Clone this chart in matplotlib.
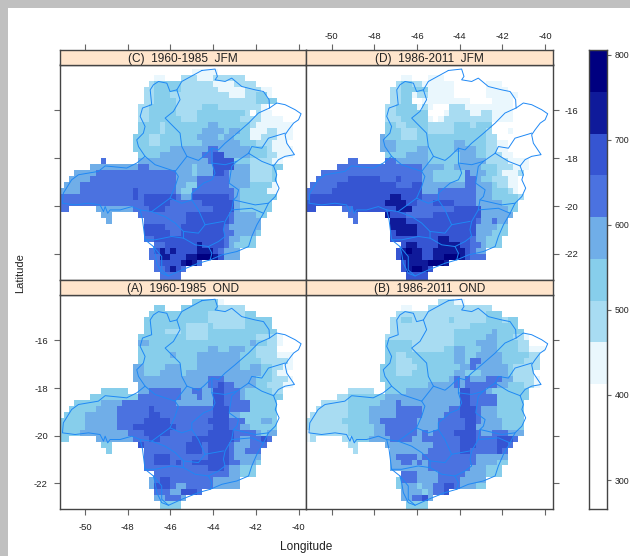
import numpy as np
import matplotlib
matplotlib.use('Agg')
from matplotlib import pyplot as plt
from matplotlib.colors import ListedColormap, BoundaryNorm
from matplotlib.patches import Rectangle

plt.rcParams['font.family'] = ['Liberation Sans', 'DejaVu Sans']

W, H = 630, 556

# class breaks of the colour key (mm) and the colour of each class
BREAKS = [266, 413, 462, 511, 560, 609, 658, 707, 756, 805]
COLORS = ['#FFFFFF', '#EAF7FD', '#A8DCF2', '#87CEEB', '#70AEE8',
          '#4B72E0', '#3655D2', '#0F1A9A', '#000080']
# rainfall read for each digit in the rows below
CLASS_MM = [340, 437, 486, 535, 584, 633, 682, 731, 780]

XTICKS = [-50, -48, -46, -44, -42, -40]
YTICKS = [-16, -18, -20, -22]
KEY_TICKS = [300, 400, 500, 600, 700, 800]

# rows run north to south in 0.25 degree cells, first column given by *_START
C_START = [25,18,17,16,16,16,15,15,15,15,15,14,14,14,15,8,6,3,2,1,0,0,0,0,8,9,16,16,16,18,17,17,18,18,19,19]
C_ROWS = [
    "11111",
    "11...222111222222",
    "2 3333 3 22222 2 1111 2 222",
    "22 33333 2222222 11111 222 11",
    "22 33322 2222222 22 111 22 331",
    "22 33332 22222222 2222 22 3333",
    "22 33333 2222 2 333 222222 22 1 00000",
    "22 33333 2222 333333333 2 0 2 11 00000",
    "22 3333 33 222 33333333 22 22 11 11000",
    "3 3 33 2 333 3333 3 44 33333 3 2 11 1111 1",
    "33 33 2 333 3333 4444 3 44 33 1 11 22 111",
    "3 33 2233 3333 3 4444 3 44 33 3 11 222 111",
    "333 2233 33 3333 4444 444 333 2 22 111",
    "333 3333 44 4444 4 55 44 4444 333 2 1111",
    "33 33 444 44444 55 66 4 4444 333 22 111",
    "5...... 4444444444444 5 6666 333 2222 11",
    "444444444 55 44444 444 3 444 6666 444 2222 33",
    "444 4 555555555555555 444 3 44 4 66 5 4444 2222 3",
    "4444 5555555555555555 4444 55 5555 4444 2222 3",
    "444 555555555555555555 44 33 5555 5 5 4 444 33 3 3 1",
    "44 44 5555555555 6 555555 5 4 33 5555555 5 4 3333 3 11",
    "555 55555555555 6 5 66666 6 5 44 6666666 5 4 33333 33",
    "55555555555555 55 66666 5 55 555 666666 4 3333 33",
    "55..... 4444444 555 666 555 555 5556666 4333333",
    "44..... 555 555 555 66 666666 5 444433",
    "4...... 555555 55 66666666 5 44444",
    "6666 555 66666666 5 444444",
    "66666 55 66666666 55 4444 3",
    "55 6666666 666666 5 44 333",
    "55 66666 6 7 6666 5 4 3333",
    "5 6 7 6 7 6666 77 7 6 5444",
    "55 77 66 6 77 88 8 7 6 444",
    "566667875",
    "556765",
    "5555",
    "5555",
]

D_START = [25,18,17,16,16,16,15,15,15,15,15,14,14,14,15,8,6,3,2,1,0,0,0,0,8,9,16,16,16,18,17,17,18,18,19,19]
D_ROWS = [
    "00000",
    "11...111000000",
    "2 3322 1 111 11 000000 111",
    "22 33333 111 11 000000 1111 00",
    "22 33 1 22 11111 000000 11 1111",
    "22 33 00 1 11111 111 0000 1 11100",
    "22 3333 1 2 1 000 222 11 11111 11 00000",
    "22 3333 33 000 1 2222 11 22 1111 000000",
    "22 2333 33 1 0 1 22222222 2 1111 000000",
    "33 2233 33 2222 2 333 2 33 3 0000 00000",
    "33 3222 33 2222 2 333 333 2 000 1 00000",
    "4 33 3222 33 3333 3333 333 2 2 00 000000",
    "444 3333 33 3333 3 44 33 33 22 11 00000",
    "444 3333 44 3333 3 44 44 33 22 11 000000",
    "33 33 4 444 3333 33 444 33 22 2 11 00000",
    "55..... 55 444444 3333 33 44 444 22 22 111 1",
    "555555555 5555555 444 4 33 44444 333 222 111",
    "555 55555555 55555555 44 33333 3 5 444 33 2 111 2",
    "5555 55666666 55565555 4433333 35 5 433 222 110",
    "55555 6666666666655566 444 44444 55 444 3 22 110",
    "55555 66666666666666666 444 5555 555 444 333 210",
    "5666666666666666 7 7 6 666 555 5555555 444 333 332",
    "66666666666666 6 777 7 66 555 6666555 5 44 444 333",
    "66..... 5566666 666 77 7 555 555 5566666 444 4433",
    "55..... 7 666 55 555 66666666 6 444444",
    "5...... 777666 66 66666666 5 44 5 44",
    "7 7777 666 6666666 6 444 433",
    "6 7777 666 66666666 4 4433 3",
    "66 66666 66 77 6666 5 44 333",
    "6 77 666 6 7777 66 5 5 4333",
    "6 7877 667 77777 6 544",
    "6 7777 66 77 888 7 6 555",
    "677778887",
    "678876",
    "6666",
    "6666",
]

A_START = [25,18,17,16,16,16,15,15,15,15,15,14,14,14,15,8,6,3,2,1,0,0,0,0,8,9,16,16,16,18,17,17,18,18,19,19]
A_ROWS = [
    "333331",
    "33...3333333 22222",
    "333333 33333 2222222 33",
    "33 33333 3333 3 2222222 33333",
    "33 33333 3 2222 322222 233333",
    "33 33 222 3 2222 333333 3333 333",
    "33 33333 3 3 2222 33333 3333 222 2 100",
    "44 33333 3333 333333 33 33 4 33 22 1000",
    "33 33333 3333 33 44 33 444 33 222 20000",
    "33 3333 4 33 33 4444 4444 333 222 2111",
    "33 3333 33 3 33 44444444 3333 222 221",
    "44 3 3334 44 3 33 44444444 33 44 33 22 11",
    "44 3 3344 44 3 44 44444444 444 4 33 2 11",
    "444 4444 44 4444 4 55 5 44 4444 333 222 1",
    "44 44 444 44 444 4 55 6 55 4444 33 222 11",
    "33333.. 44 555555 44 55 44 66 555 433 333 22",
    "333333333 55 555555 444 5 44 66 555 433 333 33",
    "3333 3444 455 55555555 4444 444 66 5 5555 3333 3",
    "33333 4444 5 55555 6 5555 5555555 666 5555 3333 3",
    "3333 444444 555555 6655 5 5555555 666 44 333 333 3",
    "33333 444444 555 5566666 5 5555 55 6666 55 5 333 44 3",
    "33333 444444 555 66 66666 6 55555 55666 55 44333 33",
    "3333 4444444 445 556 6666 5 55555 566666 555 54 344",
    "33..... 4444444 5 55 6655 555 566 666666 5445 565",
    "33..... 6 555 55555 666 5 6666 5 444 555",
    "3...... 5555555 5666 56666 5 44 555",
    "55 666 5555 55 566 66 5 44444",
    "55 6665 655 66 6 666 6 55 444 3",
    "55 5555 555 555 666 5 44 333",
    "5 5555 5555 5555 5 4 4 333",
    "4 566 555 5555 5 44 444",
    "4 666 544 555 55 44 444",
    "555446665",
    "445554",
    "3333",
    "3333",
]

B_START = [25,18,17,16,16,16,15,15,15,15,15,14,14,14,15,8,6,3,2,1,0,0,0,0,8,9,16,16,16,18,17,17,18,18,19,19]
B_ROWS = [
    "22211",
    "11...222222222222",
    "222222 22222222222 333",
    "22 33222 2222 3 222222 33 3 233",
    "22 22222 222222 22 33 33 33 333",
    "22 22222 22222 3333 333 4 3 3333",
    "22 22222 2 22222 333 333 44 33 3 22100",
    "33 33322 22 2222 33 33 444 4 3 333 22000",
    "33 33322 22 2233 44 3 33 44 4 3 333 22111",
    "33 2233 33 333 33 44 33 444 44 333 3322",
    "33 2223 33 333 33 44 3 55 44 44 333 3222",
    "3 33 2222 33 3333 3344 5 44444 4 3222 22",
    "333 2223 33 3333 3 44 3 33 44 444 3 222 2",
    "333 3333 33 3333 4 5 4 5 444 555 44 222 21",
    "33 333333 4444 4 5 4 55 5555 44 333 22 1",
    "22222.. 3333 4444444444 66 555 433 333 33",
    "22 3333333 44 44444 4444444 66 5 55 55 3333 33",
    "22222 333333 444 5 4444 4444444 66 5 5555 3333 3",
    "22222 2333 344444 5 555 5 44444 55 666 5 444 3333 3",
    "22222 22333 3444 44 5555 5 4444 555 666 5 444 3333 3",
    "222222 23333 344 55 55555 4 444 5555566 5 44 4 4 333 3",
    "222222 22333 3344 555555 4 444 5555566 4 444 4 3333",
    "122222 22333 3344 555555 45 45 5556666 5 44 555 444",
    "12..... 2233344 445 5554 45 555555 666 5 55 566 65",
    "22..... 4 444 444 44 55555 6 66 5 55 5665",
    "2...... 4444 44 4 55555 566 5 555 565",
    "4 5555 45 55555 555 5 444444",
    "44 55 45 455555 555 54 44433",
    "44 444445 555 5555 4 44 333",
    "5 55 4444 5555 54 444 333",
    "3 555 4444 5555 44 444",
    "3 444 34 455 66 54 4433",
    "444434556",
    "445564",
    "3333",
    "3333",
]

# state border and region borders, lon then lat
BORDER_LON = [-44.53,-43.91,-43.80,-43.91,-43.44,-43.13,-42.66,-42.03,-41.64,-41.38,-41.36,-41.02,-40.63,-40.16,-39.88,-40.00,-40.23,-40.47,-40.63,-40.55,-40.19,-40.63,-40.94,-41.17,-41.02,-41.09,-40.91,-41.09,-41.41,-41.64,-41.95,-42.19,-42.34,-42.89,-43.59,-44.14,-44.69,-45.47,-46.09,-46.41,-46.64,-46.72,-46.80,-47.19,-47.31,-47.42,-47.81,-48.36,-48.83,-48.94,-49.06,-49.14,-49.30,-49.84,-50.47,-51.06,-51.02,-50.63,-50.31,-49.38,-49.06,-48.05,-47.58,-47.19,-47.50,-47.58,-47.27,-47.19,-47.42,-47.31,-46.88,-46.95,-46.80,-46.56,-46.17,-46.02,-45.70,-45.47,-44.53]
BORDER_LAT = [-14.33,-14.27,-14.58,-14.72,-14.79,-14.65,-15.00,-15.14,-15.21,-15.55,-15.90,-15.69,-15.76,-15.97,-16.14,-16.39,-16.53,-16.81,-17.02,-17.37,-17.85,-17.92,-18.06,-18.32,-18.69,-18.90,-19.25,-19.60,-19.88,-20.30,-20.78,-21.27,-21.69,-21.90,-22.04,-22.25,-22.39,-22.67,-22.92,-22.81,-22.39,-21.97,-21.69,-21.41,-20.57,-20.16,-20.02,-20.16,-20.16,-20.30,-20.02,-20.23,-19.95,-19.88,-19.95,-19.88,-19.46,-18.90,-18.69,-18.55,-18.32,-18.41,-18.20,-17.92,-17.51,-17.23,-16.95,-16.67,-16.25,-15.90,-15.76,-15.14,-14.93,-14.79,-14.86,-15.21,-15.14,-14.79,-14.33]

REGION_LINES = [
    [(-45.70,-15.14),(-45.55,-15.55),(-45.86,-16.04),(-46.25,-16.32),(-46.02,-16.53),(-45.55,-16.95),(-45.47,-17.51),(-45.23,-17.92),(-44.69,-18.09),(-44.45,-17.92),(-44.06,-17.58),(-43.75,-17.65),(-43.44,-17.37),(-42.97,-17.02),(-42.34,-16.53),(-41.88,-16.11),(-41.36,-15.90)],
    [(-47.19,-17.92),(-46.72,-18.27),(-45.78,-18.55),(-45.23,-17.92)],
    [(-44.06,-17.58),(-44.06,-18.20),(-43.91,-18.62),(-44.06,-18.90),(-44.45,-19.04),(-45.00,-19.46),(-45.00,-19.74),(-45.47,-19.88),(-46.02,-19.67),(-46.88,-20.23),(-47.42,-20.16)],
    [(-45.78,-18.55),(-45.63,-18.76),(-45.78,-19.18),(-46.02,-19.67)],
    [(-42.34,-17.79),(-42.89,-18.13),(-43.13,-18.34),(-43.25,-19.04),(-42.81,-19.32),(-42.89,-19.60),(-43.05,-19.74),(-42.03,-19.95),(-41.41,-19.88)],
    [(-44.06,-18.20),(-43.44,-18.27),(-42.89,-18.13)],
    [(-42.34,-17.79),(-42.19,-17.51),(-41.72,-17.58),(-41.41,-17.16),(-40.63,-16.95)],
    [(-42.34,-17.79),(-41.72,-18.13),(-41.17,-18.32)],
    [(-43.05,-19.74),(-43.13,-20.16),(-43.44,-20.64),(-43.52,-20.99),(-43.44,-21.27),(-43.75,-21.48),(-44.22,-21.69)],
    [(-43.13,-20.16),(-42.19,-20.09),(-41.64,-20.30)],
    [(-46.88,-20.23),(-46.25,-20.44),(-45.78,-20.71),(-45.39,-21.06),(-44.69,-21.13),(-44.38,-20.78),(-43.52,-20.64)],
    [(-45.00,-19.74),(-44.69,-20.16),(-44.38,-20.78)],
    [(-45.39,-21.06),(-45.39,-21.34),(-44.84,-21.62),(-44.22,-21.69),(-44.06,-21.97),(-44.14,-22.25)],
    [(-47.19,-21.41),(-46.72,-21.41),(-45.94,-21.27),(-45.39,-21.34)],
    [(-46.80,-21.69),(-46.41,-22.11),(-46.41,-22.67),(-46.09,-22.92)],
]

LON_EDGES = np.arange(48) * 0.25 - 51.25
LAT_EDGES = -14.25 - np.arange(37) * 0.25
XLIM = (-51.19, -39.64)
YLIM = (-23.09, -14.08)
AXCOL = '#444444'
TXT = '#222222'
LINE = '#1E88F5'


def decode(starts, rows):
    grid = np.full((36, 47), np.nan)
    for r, (s, row) in enumerate(zip(starts, rows)):
        row = row.replace(' ', '')
        for k, ch in enumerate(row):
            if ch != '.' and s + k < 47:
                grid[r, s + k] = CLASS_MM[int(ch)]
    return grid


def px_axes(fig, x0, y0, x1, y1):
    # box given in image pixels, y down
    return fig.add_axes([x0 / W, 1 - y1 / H, (x1 - x0) / W, (y1 - y0) / H])


def style(ax, lw=1.0):
    for s in ax.spines.values():
        s.set_linewidth(lw)
        s.set_color(AXCOL)
    ax.tick_params(length=4, width=0.8, color='#666666', labelsize=6.8,
                   labelcolor=TXT)


cmap = ListedColormap(COLORS)
norm = BoundaryNorm(BREAKS, cmap.N)

fig = plt.figure(figsize=(W / 100, H / 100), dpi=100, facecolor='white')
# grey window edge of the screenshot
fig.add_artist(Rectangle((0, 1 - 8 / H), 1, 8 / H, transform=fig.transFigure, fc='#C0C0C0', ec='none'))
fig.add_artist(Rectangle((0, 0), 8 / W, 1, transform=fig.transFigure, fc='#C0C0C0', ec='none'))

X_MID = 306.2
panels = [
    ('(C)  1960-1985  JFM', C_START, C_ROWS, 59.7, X_MID, 50.3, 64.5, 280.0, 'left', True),
    ('(D)  1986-2011  JFM', D_START, D_ROWS, X_MID, 552.8, 50.3, 64.5, 280.0, 'right', True),
    ('(A)  1960-1985  OND', A_START, A_ROWS, 59.7, X_MID, 280.0, 294.7, 509.3, 'left', False),
    ('(B)  1986-2011  OND', B_START, B_ROWS, X_MID, 552.8, 280.0, 294.7, 509.3, 'right', False),
]

for title, starts, rows, x0, x1, ys, y0, y1, side, is_top in panels:
    grid = decode(starts, rows)
    ax = px_axes(fig, x0, y0, x1, y1)
    ax.pcolormesh(LON_EDGES, LAT_EDGES, grid, cmap=cmap, norm=norm,
                  shading='flat', antialiased=False, linewidth=0)
    ax.plot(BORDER_LON, BORDER_LAT, color=LINE, lw=0.7)
    for seg in REGION_LINES:
        ax.plot([p[0] for p in seg], [p[1] for p in seg], color=LINE, lw=0.7)
    ax.set_xlim(XLIM)
    ax.set_ylim(YLIM)
    style(ax)

    ax.set_yticks(YTICKS)
    if side == 'left':
        ax.yaxis.tick_left()
        ax.tick_params(axis='y', pad=4.5)
        if is_top:
            ax.set_yticklabels([])
        else:
            ax.set_yticklabels([str(v) for v in YTICKS])
    else:
        ax.yaxis.tick_right()
        ax.tick_params(axis='y', pad=4.5)
        if is_top:
            ax.set_yticklabels([str(v) for v in YTICKS])
        else:
            ax.set_yticklabels([])

    if is_top:
        ax.set_xticks([])
    else:
        ax.set_xticks(XTICKS)
        ax.tick_params(axis='x', pad=6)
        if side == 'left':
            ax.set_xticklabels([str(v) for v in XTICKS])
        else:
            ax.set_xticklabels([])

    # strip on top of the panel
    st = px_axes(fig, x0, ys, x1, y0)
    st.set_facecolor('#FFE5CC')
    st.set_xlim(XLIM)
    st.set_yticks([])
    style(st)
    st.text(0.5, 0.42, title, transform=st.transAxes, ha='center', va='center',
            fontsize=8.6, color=TXT)
    if is_top:
        st.xaxis.tick_top()
        st.set_xticks(XTICKS)
        st.tick_params(axis='x', pad=3)
        if side == 'right':
            st.set_xticklabels([str(v) for v in XTICKS])
        else:
            st.set_xticklabels([])
    else:
        st.set_xticks([])

# colour key
key = px_axes(fig, 589.3, 50.3, 607.0, 509.0)
key.pcolormesh([0, 1], BREAKS, np.array(CLASS_MM).reshape(-1, 1), cmap=cmap, norm=norm,
               shading='flat', antialiased=False, linewidth=0)
key.set_xticks([])
key.yaxis.tick_right()
key.set_yticks(KEY_TICKS)
key.set_yticklabels([str(v) for v in KEY_TICKS])
key.set_ylim(BREAKS[0], BREAKS[-1])
style(key)
key.tick_params(axis='y', length=3, pad=2.5, labelsize=6.3)

fig.text(306 / W, 1 - 547 / H, 'Longitude', ha='center', va='center', fontsize=8.6, color=TXT)
fig.text(20 / W, 1 - 273 / H, 'Latitude', ha='center', va='center', rotation=90, fontsize=8.0, color=TXT)

fig.savefig('out.png', dpi=100)
